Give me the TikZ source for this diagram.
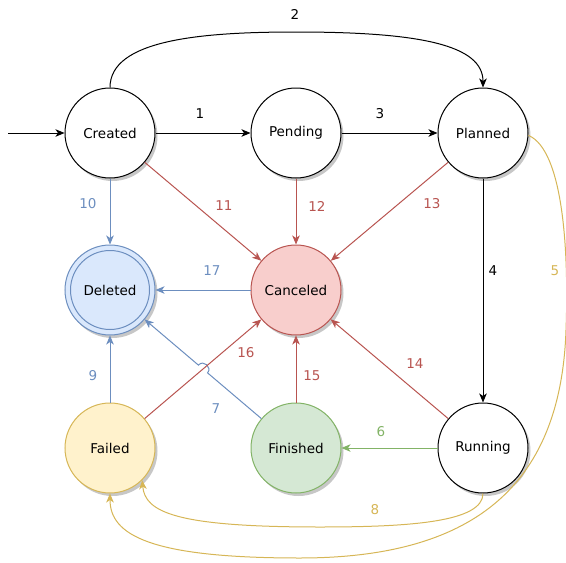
\documentclass[tikz,border=0pt]{standalone}
\usepackage{fontspec}
\setmainfont{DejaVu Sans}
\usetikzlibrary{arrows.meta,shadows,calc}

\definecolor{blueFill}{HTML}{DAE8FC}
\definecolor{blueLine}{HTML}{6C8EBF}
\definecolor{redFill}{HTML}{F8CECC}
\definecolor{redLine}{HTML}{B85450}
\definecolor{yellowFill}{HTML}{FFF2CC}
\definecolor{yellowLine}{HTML}{D6B656}
\definecolor{greenFill}{HTML}{D5E8D4}
\definecolor{greenLine}{HTML}{82B366}

\tikzset{
  txt/.style={font=\fontsize{13.5}{16}\selectfont},
  state/.style={circle, draw=black, fill=white, line width=1pt, minimum size=90pt,
    inner sep=0pt, txt,
    drop shadow={shadow xshift=2.5pt, shadow yshift=-3pt, fill=black, opacity=0.22}},
  edge/.style={line width=1pt, -{Stealth[length=9pt,width=7.5pt,inset=2.5pt]}},
  lbl/.style={txt, inner sep=0pt},
}

\begin{document}
\begin{tikzpicture}[x=1pt,y=-1pt]
\useasboundingbox (0,0) rectangle (566,563);

% states
\node[state] (Created) at (110,133) {Created};
\node[state] (Pending) at (296,133) {Pending};
\node[state] (Planned) at (483,133) {Planned};
\node[state, fill=blueFill, draw=blueLine] (Deleted) at (110,290) {Deleted};
\draw[blueLine, line width=1pt] (Deleted.center) circle (39.5);
\node[state, fill=redFill, draw=redLine] (Canceled) at (296,290) {Canceled};
\node[state, fill=yellowFill, draw=yellowLine] (Failed) at (110,448) {Failed};
\node[state, fill=greenFill, draw=greenLine] (Finished) at (296,448) {Finished};
\node[state] (Running) at (483,448) {Running};

% initial transition
\coordinate (start) at (8,133);
\draw[edge] (start) -- (Created);

% black transitions
\draw[edge] (Created) -- (Pending);
\node[lbl] (l1) at (200,114) {1};
\draw[edge] (Created.north) .. controls (110,40) and (200,32) .. (296,32)
  .. controls (420,32) and (483,45) .. (Planned.north);
\node[lbl] (l2) at (295,14) {2};
\draw[edge] (Pending) -- (Planned);
\node[lbl] (l3) at (380,114) {3};
\draw[edge] (Planned) -- (Running);
\node[lbl] (l4) at (493,271) {4};

% yellow transitions to Failed
\draw[edge, yellowLine] (Planned.-3) .. controls (563,150) and (569,250) .. (566,330)
  .. controls (561,480) and (480,558) .. (300,558)
  .. controls (150,558) and (110,535) .. (Failed.south);
\node[lbl, text=yellowLine] (l5) at (555,271) {5};
\draw[edge, yellowLine] (Running.south) .. controls (483,522) and (410,527) .. (320,527)
  .. controls (175,527) and (145,512) .. (Failed.-45);
\node[lbl, text=yellowLine] (l8) at (375,510) {8};

% green transition
\draw[edge, greenLine] (Running) -- (Finished);
\node[lbl, text=greenLine] (l6) at (381,432) {6};

% blue transitions to Deleted (7 hops over 16)
\coordinate (X) at ($(Finished)!0.5!(Deleted)$);
\draw[edge, blueLine] (Finished) -- ($(X)!6pt!(Finished)$)
  to[bend right=90, looseness=1.6] ($(X)!6pt!(Deleted)$) -- (Deleted);
\node[lbl, text=blueLine] (l7) at (216,409) {7};
\draw[edge, blueLine] (Failed) -- (Deleted);
\node[lbl, text=blueLine] (l9) at (93,376) {9};
\draw[edge, blueLine] (Created) -- (Deleted);
\node[lbl, text=blueLine] (l10) at (88,204) {10};
\draw[edge, blueLine] (Canceled) -- (Deleted);
\node[lbl, text=blueLine] (l17) at (212,271) {17};

% red transitions to Canceled
\draw[edge, redLine] (Created) -- (Canceled);
\node[lbl, text=redLine] (l11) at (224,206) {11};
\draw[edge, redLine] (Pending) -- (Canceled);
\node[lbl, text=redLine] (l12) at (317,206) {12};
\draw[edge, redLine] (Planned) -- (Canceled);
\node[lbl, text=redLine] (l13) at (432,204) {13};
\draw[edge, redLine] (Running) -- (Canceled);
\node[lbl, text=redLine] (l14) at (415,364) {14};
\draw[edge, redLine] (Finished) -- (Canceled);
\node[lbl, text=redLine] (l15) at (312,376) {15};
\draw[edge, redLine] (Failed) -- (Canceled);
\node[lbl, text=redLine] (l16) at (246,353) {16};
\end{tikzpicture}
\end{document}
